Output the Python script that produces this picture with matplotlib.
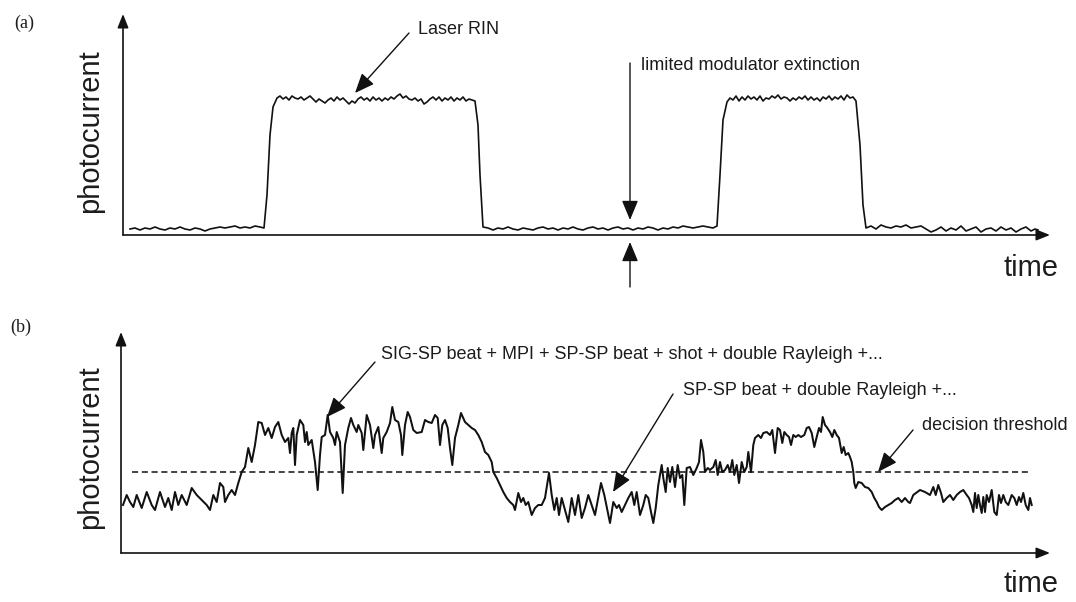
import matplotlib
matplotlib.use("Agg")
import matplotlib.pyplot as plt

plt.rcParams['font.family'] = ['Liberation Sans', 'DejaVu Sans']

# ---------------- data : panel (a) ----------------
time_a = [130, 135, 140, 145, 150, 155, 160, 165, 170, 175, 180, 185, 190, 195, 200, 205, 210, 215,
          220, 225, 230, 235, 240, 245, 250, 255, 260, 264, 267, 270, 273,
          277, 280, 283, 286, 289, 292, 295, 298, 301, 304, 307, 310, 313, 316, 319, 322, 325, 328,
          331, 334, 337, 340, 343, 346, 349, 352, 355, 358, 361, 364, 367, 370, 373, 376, 379, 382,
          385, 388, 391, 394, 397, 400, 403, 406, 409, 412, 415, 418, 421, 424, 427, 430, 433, 436,
          439, 442, 445, 448, 451, 454, 457, 460, 463, 466, 469, 472, 475, 478, 480, 483,
          488, 493, 498, 503, 508, 513, 518, 523, 528, 533, 538, 543, 548, 553, 558, 563, 568, 573,
          578, 583, 588, 593, 598, 603, 608, 613, 618, 623, 628, 633, 638, 643, 648, 653, 658, 663,
          668, 673, 678, 683, 688, 693, 698, 703, 708, 713, 717, 720, 723,
          727, 730, 733, 736, 739, 742, 745, 748, 751, 754, 757, 760, 763, 766, 769, 772, 775, 778,
          781, 784, 787, 790, 793, 796, 799, 802, 805, 808, 811, 814, 817, 820, 823, 826, 829, 832,
          835, 838, 841, 844, 847, 850, 853, 856, 860, 863, 866,
          871, 876, 881, 886, 891, 896, 901, 906, 911, 916, 921, 926, 931, 936, 941, 946, 951, 956,
          961, 966, 971, 976, 981, 986, 991, 996, 1001, 1006, 1011, 1016, 1021, 1026, 1031, 1035, 1038]
current_a = [6, 7, 5, 7, 6, 8, 6, 5, 7, 6, 8, 6, 5, 7, 6, 4, 6, 7,
             8, 7, 8, 9, 7, 8, 7, 9, 8, 7, 40, 100, 128,
             137, 139, 136, 138, 135, 139, 137, 136, 138, 135, 137, 139, 136, 133, 136, 134, 132, 135,
             137, 134, 138, 135, 137, 134, 131, 134, 132, 136, 138, 135, 137, 134, 138, 135, 137, 134,
             137, 135, 138, 136, 139, 141, 137, 139, 136, 135, 137, 134, 136, 131, 133, 136, 138, 135,
             138, 134, 137, 135, 138, 134, 137, 135, 138, 134, 136, 135, 134, 110, 60, 8,
             7, 5, 7, 6, 8, 6, 5, 7, 6, 5, 7, 8, 6, 7, 5, 7, 6, 8,
             6, 5, 7, 8, 6, 7, 5, 7, 8, 6, 7, 5, 7, 6, 8, 7, 5, 7,
             6, 8, 7, 9, 8, 7, 8, 9, 8, 7, 9, 60, 115,
             133, 137, 135, 139, 134, 138, 135, 139, 136, 138, 135, 139, 134, 137, 136, 139, 137, 140,
             136, 138, 137, 134, 137, 135, 138, 136, 139, 135, 138, 135, 137, 134, 138, 136, 139, 135,
             138, 136, 139, 135, 140, 137, 138, 134, 90, 30, 7,
             9, 6, 10, 8, 7, 9, 8, 10, 7, 8, 9, 6, 3, 5, 8, 4, 7, 5,
             9, 4, 6, 8, 3, 6, 7, 4, 8, 5, 7, 3, 6, 8, 4, 6, 5]

# ---------------- data : panel (b) ----------------
time_b = [123, 126.7, 130, 133.3, 136.7, 141.7, 146.7, 151.7, 155, 160, 165, 168.3, 171.7, 175, 178.3,
          181.7, 186.7, 191.7, 196.7, 201.7, 206.7, 210, 213.3, 216.7, 220, 223.3, 225, 228.3, 231.7,
          235, 238.3, 241.7, 245, 248.3, 251.7, 255, 258.3, 261.7, 265, 268.3, 271.7, 275,
          278.3, 281.7, 285, 288.3, 290, 291.7, 293.3, 295, 296.7, 300, 303.3, 305, 306.7, 308.3, 311.7,
          315, 317.7, 320, 321.7, 325, 327.7, 330, 333.3, 335, 336.7, 340, 342.7, 345, 348.3, 351,
          353.3, 356.7, 358.3, 361.7, 363.3, 366.7, 370, 371.7, 373.3, 375, 378.3, 381.7, 383.3, 386.7,
          390, 392.3, 395, 398.3, 401, 402.3, 405, 407.7, 410, 413.3, 416.7, 421.7, 425, 428.3, 431.7,
          435, 437.7, 440, 442.3, 445, 447.7, 450, 452.3, 455, 458.3, 461, 465, 468.3, 471.7, 475,
          478.3, 481.7, 485, 488.3, 491.7, 493.3, 496.7, 500, 503.3, 506.7, 510, 513.3, 515, 518.3,
          521, 523.3, 525.7, 528.3, 531.7, 535, 538.3, 541.7, 545, 549, 551.7, 554.3, 556.7, 559,
          561.7, 565, 568.3, 571.7, 575, 578.3, 581.7, 585, 588.3, 591.7, 595,
          601, 604.3, 607.7, 610, 613.3, 616.7, 619, 621.7, 625, 628.3, 631.7, 634.3, 636.7, 640,
          643.3, 645.7, 648.3, 651, 653.3, 655.7, 658.3, 661.7, 663.3, 665.7, 667.7, 670, 672.3, 675,
          677.7, 680, 682.3, 684.3, 686.7, 690, 693.3, 696.7, 699, 701, 703.3, 705, 707.7, 710, 713.3,
          715.7, 717.7, 720, 722.3, 725, 727.7, 730, 732.3, 734.3, 736.7, 739, 741.7, 744.3, 746.7,
          748.3, 751, 753.3,
          755, 758.3, 761, 763.3, 766.7, 770, 772.3, 775, 777.7, 780, 782.3, 784.3, 786.7, 789, 791,
          793.3, 795.7, 798.3, 801, 804.3, 806.7, 809, 811.7, 814.3, 816.7, 819, 821, 822.7, 825,
          826.7, 830, 832.3, 834.3, 836.7, 839, 841.7, 843.7, 845.7, 848.3, 850, 851.7, 853.3, 854.3,
          855.7, 858.3, 861.7, 865, 868.3, 871.7, 874.3, 876.7, 879, 881.7, 885, 888.3, 891.7, 895,
          898.3, 901.7, 905, 908.3, 910, 913.3,
          920, 925, 930, 933.3, 935.7, 938.3, 941, 943.3, 946.7, 950, 953.3, 956.7, 960, 963.3, 966.7,
          969, 971.7, 973.3, 975, 976.7, 978.3, 980, 981.7, 983.3, 985, 986.7, 989, 991.7, 994.3,
          996.7, 999, 1001, 1003.3, 1005.7, 1008.3, 1011.7, 1014.3, 1016.7, 1019, 1021, 1023.3,
          1025.7, 1028.3, 1030, 1031.7]
current_b = [48, 58, 51, 46, 58, 45, 61, 48, 43, 61, 46, 55, 43, 61, 48,
             58, 48, 65, 58, 53, 48, 43, 58, 51, 70, 66, 51, 58, 63,
             58, 70, 81, 86, 105, 91, 108, 131, 130, 118, 125, 115, 126,
             131, 118, 111, 115, 100, 120, 125, 88, 118, 133, 128, 111, 121, 108, 113,
             91, 63, 98, 116, 118, 138, 121, 115, 108, 121, 111, 60, 108, 125, 135,
             128, 121, 128, 120, 103, 138, 128, 116, 105, 118, 126, 100, 115, 121,
             130, 146, 133, 131, 118, 98, 128, 141, 136, 123, 120, 121, 133, 131, 130,
             138, 135, 108, 128, 133, 125, 105, 88, 115, 128, 140, 131, 128, 125, 123,
             118, 111, 101, 98, 91, 81, 75, 68, 61, 55, 51, 48, 43, 60,
             51, 55, 48, 51, 38, 45, 48, 48, 55, 80, 58, 43, 55, 38,
             55, 43, 31, 55, 38, 58, 35, 45, 58, 48, 38,
             70, 58, 41, 30, 51, 45, 48, 41, 48, 55, 61, 48, 61, 38,
             48, 58, 55, 41, 30, 45, 68, 88, 75, 61, 85, 71, 86, 66,
             88, 75, 78, 48, 85, 86, 78, 85, 91, 113, 101, 81, 85, 83, 86,
             93, 78, 91, 81, 83, 88, 81, 93, 78, 88, 70, 91, 81, 86,
             101, 81, 108,
             115, 118, 115, 120, 121, 118, 123, 100, 125, 123, 110, 121, 118, 116, 108,
             118, 116, 118, 116, 118, 125, 126, 120, 106, 116, 125, 121, 136, 128,
             126, 121, 116, 123, 118, 115, 100, 106, 98, 100, 96, 91, 81, 70,
             65, 71, 70, 66, 65, 61, 55, 51, 46, 43, 46, 48, 50, 53,
             55, 51, 55, 51, 50, 58,
             63, 61, 58, 66, 58, 68, 60, 51, 55, 58, 53, 58, 61, 63, 58,
             55, 48, 41, 60, 45, 58, 48, 40, 56, 41, 58, 51, 63, 41,
             38, 58, 50, 58, 51, 48, 58, 55, 48, 56, 51, 60,
             48, 43, 55, 48]

threshold_b = 81
threshold_span = (132, 1028)

labels = {
    "panel_a": "(a)", "panel_b": "(b)",
    "ylabel": "photocurrent", "xlabel": "time",
    "rin": "Laser RIN",
    "extinction": "limited modulator extinction",
    "mark": "SIG-SP beat + MPI + SP-SP beat + shot + double Rayleigh +...",
    "space": "SP-SP beat + double Rayleigh +...",
    "threshold": "decision threshold",
}

# ---------------- figure ----------------
W, H = 1076, 602
fig = plt.figure(figsize=(W / 100, H / 100), dpi=100)
fig.patch.set_facecolor('white')

def fx(px):
    return px / W

def fy(py):
    return 1 - py / H

ink = '#111111'
txt = '#1c1c1c'
tfs = 13

ax_a = fig.add_axes([fx(123), fy(235), fx(1050) - fx(123), fy(14) - fy(235)])
ax_b = fig.add_axes([fx(121), fy(553), fx(1050) - fx(121), fy(332) - fy(553)])
ax_a.set_xlim(123, 1050); ax_a.set_ylim(0, 221)
ax_b.set_xlim(121, 1050); ax_b.set_ylim(0, 221)

for ax in (ax_a, ax_b):
    ax.set_axis_off()
    ap = dict(arrowstyle='-|>,head_length=0.55,head_width=0.22', mutation_scale=15,
              lw=1.2, color=ink, shrinkA=0, shrinkB=0)
    ax.annotate('', xy=(1, 0), xytext=(0, 0), xycoords='axes fraction', arrowprops=ap)
    ax.annotate('', xy=(0, 1), xytext=(0, 0), xycoords='axes fraction', arrowprops=ap)

ax_a.plot(time_a, current_a, color=ink, lw=1.2, clip_on=False)
ax_b.plot(time_b, current_b, color=ink, lw=1.45, clip_on=False)
ax_b.plot(threshold_span, [threshold_b, threshold_b], color=ink, lw=1.1,
          ls=(0, (4.0, 2.4)), clip_on=False)

big = dict(arrowstyle='-|>,head_length=0.6,head_width=0.25', mutation_scale=20,
           lw=1.0, color=ink, shrinkA=0, shrinkB=0)

# panel (a) annotations
ax_a.annotate('', xy=(355, 142), xytext=(409, 202), arrowprops=big, annotation_clip=False)
ax_a.text(418, 205, labels["rin"], fontsize=tfs, color=txt, va='center', ha='left')
ax_a.annotate('', xy=(630, 15), xytext=(630, 172), arrowprops=big, annotation_clip=False)
ax_a.annotate('', xy=(630, -7), xytext=(630, -52), arrowprops=big, annotation_clip=False)
ax_a.text(641, 170, labels["extinction"], fontsize=tfs, color=txt, va='center', ha='left')

# panel (b) annotations
ax_b.annotate('', xy=(327, 136), xytext=(375, 191), arrowprops=big, annotation_clip=False)
ax_b.text(381, 198, labels["mark"], fontsize=tfs, color=txt, va='center', ha='left')
ax_b.annotate('', xy=(613, 61), xytext=(673, 159), arrowprops=big, annotation_clip=False)
ax_b.text(683, 162, labels["space"], fontsize=tfs, color=txt, va='center', ha='left')
ax_b.annotate('', xy=(878, 81), xytext=(913, 123), arrowprops=big, annotation_clip=False)
ax_b.text(922, 127, labels["threshold"], fontsize=tfs, color=txt, va='center', ha='left')

# panel labels and axis titles
serif = ['Liberation Serif', 'DejaVu Serif']
fig.text(fx(24), fy(23), labels["panel_a"], family=serif, fontsize=13, color=txt,
         ha='center', va='center')
fig.text(fx(21), fy(327), labels["panel_b"], family=serif, fontsize=13, color=txt,
         ha='center', va='center')
for yc in (131, 447):
    fig.text(fx(90), fy(yc), labels["ylabel"], fontsize=21, color=txt, rotation=90,
             ha='center', va='center')
for yc in (268, 584):
    fig.text(fx(1058), fy(yc), labels["xlabel"], fontsize=21, color=txt,
             ha='right', va='center')

fig.savefig('out.png', dpi=100, facecolor='white')
